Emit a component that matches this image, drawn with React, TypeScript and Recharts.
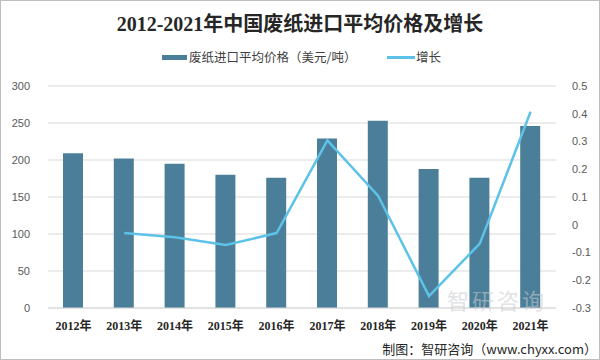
import React from "react";
import { ComposedChart, Bar, Line, XAxis, YAxis, CartesianGrid } from "recharts";

const years = ["2012年", "2013年", "2014年", "2015年", "2016年", "2017年", "2018年", "2019年", "2020年", "2021年"];
const prices = [209, 202, 195, 180, 176, 229, 253, 188, 176, 246];
const growth = [null, -0.03, -0.045, -0.073, -0.03, 0.304, 0.104, -0.257, -0.068, 0.407];
const leftTicks = [0, 50, 100, 150, 200, 250, 300];
const rightTicks = [-0.3, -0.2, -0.1, 0, 0.1, 0.2, 0.3, 0.4, 0.5];

const title = "2012-2021年中国废纸进口平均价格及增长";
const barName = "废纸进口平均价格（美元/吨）";
const lineName = "增长";
const source = "制图：智研咨询（www.chyxx.com）";
const watermark = "智研咨询";

const data = years.map((y, i) => ({ year: y, price: prices[i], growth: growth[i] }));

const BAR = "#4b7f99";
const LINE = "#5cc2e8";
const CJK = "'Noto Sans CJK SC', 'Noto Sans', sans-serif";

const XTick = (props: any) => {
  const { x, y, payload } = props;
  return (
    <text x={x} y={y + 14} textAnchor="middle" fontSize={12} fontWeight="bold" fill="#262626"
      fontFamily={"'Liberation Serif', 'Noto Sans CJK SC', serif"}>
      {payload.value}
    </text>
  );
};

export default function App() {
  return (
    <div style={{ position: "absolute", left: 0, top: 0, width: 598, height: 358, border: "1px solid #bdbdbd", background: "#fff", overflow: "hidden" }}>
      <div style={{ position: "absolute", left: 0, top: 7, width: 598, textAlign: "center", fontSize: 20, fontWeight: "bold", color: "#262626", fontFamily: "'Liberation Serif', 'Noto Sans CJK SC', serif" }}>
        {title}
      </div>
      <div style={{ position: "absolute", top: 47, left: 0, width: 598, height: 18, fontFamily: CJK, fontSize: 12.5, color: "#404040" }}>
        <div style={{ position: "absolute", left: 161, top: 7, width: 25, height: 5, background: BAR }} />
        <div style={{ position: "absolute", left: 188, top: 0, whiteSpace: "nowrap", lineHeight: "18px" }}>{barName}</div>
        <div style={{ position: "absolute", left: 386, top: 8, width: 28, height: 2.5, background: LINE }} />
        <div style={{ position: "absolute", left: 415, top: 0, whiteSpace: "nowrap", lineHeight: "18px" }}>{lineName}</div>
      </div>
      <div style={{ position: "absolute", left: 0, top: 0 }}>
        <ComposedChart width={600} height={360} data={data} margin={{ top: 85, right: 0, bottom: 23, left: 0 }}>
          <CartesianGrid vertical={false} stroke="#d9d9d9" yAxisId="left" />
          <XAxis dataKey="year" tick={<XTick />} tickLine={false} axisLine={{ stroke: "#d9d9d9" }} height={30} interval={0} />
          <YAxis yAxisId="left" orientation="left" domain={[0, 300]} ticks={leftTicks} width={47}
            tick={{ fontSize: 11, fill: "#595959", fontFamily: "'Liberation Sans', sans-serif" }} tickLine={false} axisLine={false} tickMargin={12} />
          <YAxis yAxisId="right" orientation="right" domain={[-0.3, 0.5]} ticks={rightTicks} width={45}
            tick={{ fontSize: 11, fill: "#595959", fontFamily: "'Liberation Sans', sans-serif", textAnchor: "start" }}
            tickFormatter={(v: number) => (v === 0 ? "0" : String(Number(v.toFixed(1))))}
            tickLine={false} axisLine={false} tickMargin={10} />
          <Bar yAxisId="left" dataKey="price" fill={BAR} barSize={20} isAnimationActive={false} />
          <Line yAxisId="right" dataKey="growth" stroke={LINE} strokeWidth={2.5} dot={false} connectNulls={false} isAnimationActive={false} />
        </ComposedChart>
      </div>
      <div style={{ position: "absolute", left: 446, top: 287, fontSize: 22, lineHeight: 1, color: "#c8ccd0", opacity: 0.55, fontFamily: CJK, letterSpacing: 3, whiteSpace: "nowrap" }}>
        {watermark}
      </div>
      <div style={{ position: "absolute", right: 2, top: 338, fontSize: 13, color: "#262626", fontFamily: CJK, whiteSpace: "nowrap" }}>
        {source}
      </div>
    </div>
  );
}
